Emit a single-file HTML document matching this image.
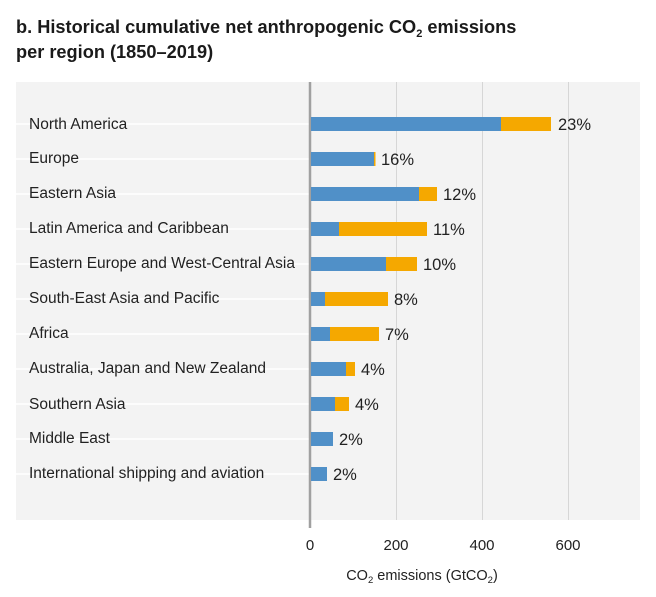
<!DOCTYPE html>
<html><head><meta charset="utf-8"><style>
body{margin:0;background:#fff;width:656px;height:592px;overflow:hidden;font-family:"Liberation Sans",sans-serif}
</style></head><body>
<svg width="656" height="592" xmlns="http://www.w3.org/2000/svg" font-family="Liberation Sans, sans-serif">
<text x="16" y="33" font-size="18.2" font-weight="bold" fill="#1a1a1a">b. Historical cumulative net anthropogenic CO<tspan font-size="11" dy="4">2</tspan><tspan dy="-4"> emissions</tspan></text>
<text x="16" y="58" font-size="18.2" font-weight="bold" fill="#1a1a1a">per region (1850–2019)</text>
<rect x="16" y="82" width="624" height="438" fill="#f3f3f3"/>
<g stroke="#d6d6d6" stroke-width="1">
<line x1="396.5" y1="82" x2="396.5" y2="520"/><line x1="482.5" y1="82" x2="482.5" y2="520"/><line x1="568.5" y1="82" x2="568.5" y2="520"/>
</g>
<g stroke="#fff" stroke-width="1.5">
<line x1="16" y1="124" x2="309" y2="124"/><line x1="16" y1="159" x2="309" y2="159"/><line x1="16" y1="194" x2="309" y2="194"/><line x1="16" y1="229" x2="309" y2="229"/><line x1="16" y1="264" x2="309" y2="264"/><line x1="16" y1="299" x2="309" y2="299"/><line x1="16" y1="334" x2="309" y2="334"/><line x1="16" y1="369" x2="309" y2="369"/><line x1="16" y1="404" x2="309" y2="404"/><line x1="16" y1="439" x2="309" y2="439"/><line x1="16" y1="474" x2="309" y2="474"/>
</g>
<line x1="310" y1="82" x2="310" y2="528" stroke="#a0a0a0" stroke-width="2.5"/>
<g font-size="15.5" fill="#222">
<text x="29" y="129">North America</text>
<text x="29" y="163">Europe</text>
<text x="29" y="198">Eastern Asia</text>
<text x="29" y="233">Latin America and Caribbean</text>
<text x="29" y="268">Eastern Europe and West-Central Asia</text>
<text x="29" y="303">South-East Asia and Pacific</text>
<text x="29" y="338">Africa</text>
<text x="29" y="373">Australia, Japan and New Zealand</text>
<text x="29" y="409">Southern Asia</text>
<text x="29" y="443">Middle East</text>
<text x="29" y="478">International shipping and aviation</text>
</g>
<g>
<rect x="311" y="117" width="190" height="14" fill="#5090c8"/><rect x="501" y="117" width="50" height="14" fill="#f5a800"/>
<rect x="311" y="152" width="63" height="14" fill="#5090c8"/><rect x="374" y="152" width="1.5" height="14" fill="#f5a800"/>
<rect x="311" y="187" width="108" height="14" fill="#5090c8"/><rect x="419" y="187" width="18" height="14" fill="#f5a800"/>
<rect x="311" y="222" width="28" height="14" fill="#5090c8"/><rect x="339" y="222" width="88" height="14" fill="#f5a800"/>
<rect x="311" y="257" width="75" height="14" fill="#5090c8"/><rect x="386" y="257" width="31" height="14" fill="#f5a800"/>
<rect x="311" y="292" width="14" height="14" fill="#5090c8"/><rect x="325" y="292" width="63" height="14" fill="#f5a800"/>
<rect x="311" y="327" width="19" height="14" fill="#5090c8"/><rect x="330" y="327" width="49" height="14" fill="#f5a800"/>
<rect x="311" y="362" width="35" height="14" fill="#5090c8"/><rect x="346" y="362" width="9" height="14" fill="#f5a800"/>
<rect x="311" y="397" width="24" height="14" fill="#5090c8"/><rect x="335" y="397" width="14" height="14" fill="#f5a800"/>
<rect x="311" y="432" width="22" height="14" fill="#5090c8"/>
<rect x="311" y="467" width="16" height="14" fill="#5090c8"/>
</g>
<g font-size="16.5" fill="#222">
<text x="558" y="130">23%</text>
<text x="381" y="165">16%</text>
<text x="443" y="200">12%</text>
<text x="433" y="235">11%</text>
<text x="423" y="270">10%</text>
<text x="394" y="305">8%</text>
<text x="385" y="340">7%</text>
<text x="361" y="375">4%</text>
<text x="355" y="410">4%</text>
<text x="339" y="445">2%</text>
<text x="333" y="480">2%</text>
</g>
<g font-size="15" fill="#222" text-anchor="middle">
<text x="310" y="550">0</text><text x="396" y="550">200</text><text x="482" y="550">400</text><text x="568" y="550">600</text>
</g>
<text x="422" y="580" font-size="14.5" fill="#222" text-anchor="middle">CO<tspan font-size="9.5" dy="3">2</tspan><tspan dy="-3"> emissions (GtCO</tspan><tspan font-size="9.5" dy="3">2</tspan><tspan dy="-3">)</tspan></text>
</svg>
</body></html>
